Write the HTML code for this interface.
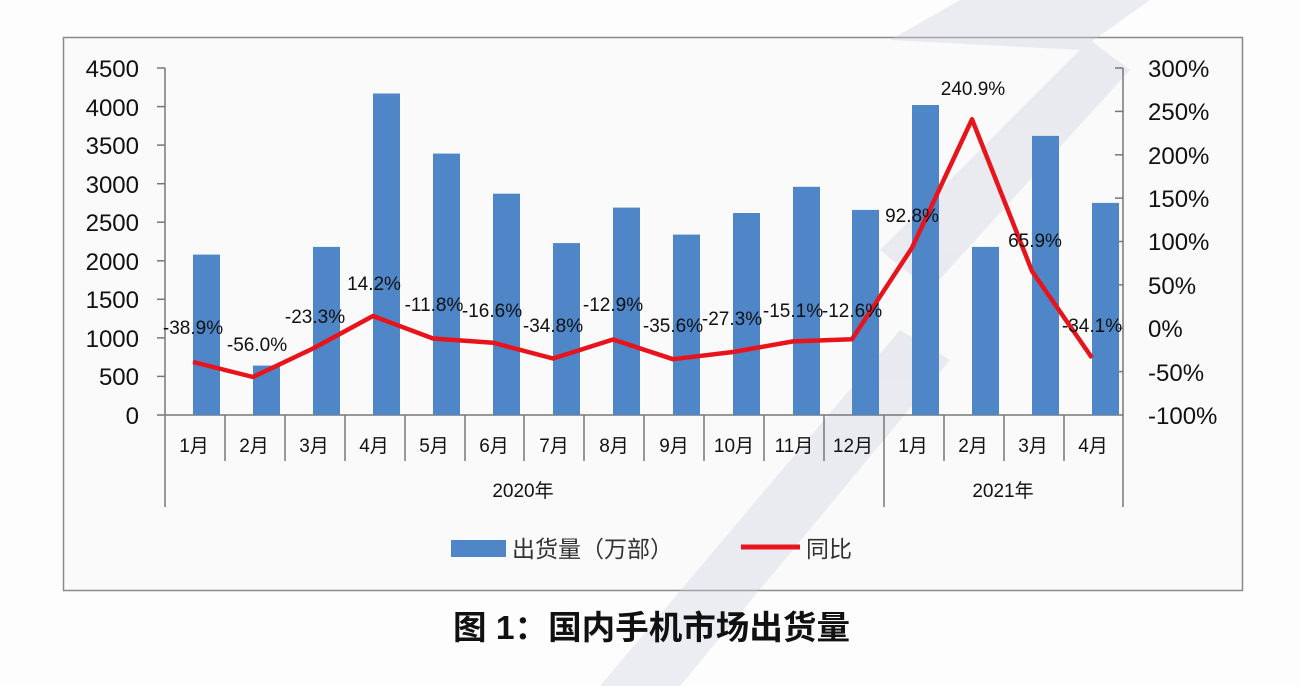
<!DOCTYPE html>
<html><head><meta charset="utf-8"><style>
html,body{margin:0;padding:0;background:#fff;}
svg{display:block;}
text{font-family:"Liberation Sans","Noto Sans CJK SC",sans-serif;}
</style></head><body>
<svg width="1300" height="686" viewBox="0 0 1300 686" xmlns="http://www.w3.org/2000/svg">
<rect x="0" y="0" width="1300" height="686" fill="#fdfdfd"/>
<rect x="63.5" y="37.5" width="1179" height="553" fill="#fafafa" stroke="#8a8a8a" stroke-width="1.5"/>
<!-- watermark -->
<g fill="#c9cfe0" opacity="0.35">
<polygon points="890,40 960,0 1150,0 1080,50"/>
<polygon points="880,250 1090,40 1130,70 930,290"/>
<polygon points="600,686 900,330 950,360 680,686"/>
</g>
<!-- axes -->
<g stroke="#777" stroke-width="1.5" fill="none">
<line x1="165" y1="68" x2="165" y2="507"/>
<line x1="157" y1="415" x2="1123" y2="415"/>
<line x1="1123" y1="68" x2="1123" y2="507"/>
</g>
<g stroke="#777" stroke-width="1.5">
<line x1="157" y1="68" x2="165" y2="68"/><line x1="157" y1="106.6" x2="165" y2="106.6"/>
<line x1="157" y1="145.1" x2="165" y2="145.1"/><line x1="157" y1="183.7" x2="165" y2="183.7"/>
<line x1="157" y1="222.2" x2="165" y2="222.2"/><line x1="157" y1="260.8" x2="165" y2="260.8"/>
<line x1="157" y1="299.3" x2="165" y2="299.3"/><line x1="157" y1="337.9" x2="165" y2="337.9"/>
<line x1="157" y1="376.4" x2="165" y2="376.4"/>
<line x1="1115" y1="68" x2="1123" y2="68"/><line x1="1115" y1="111.4" x2="1123" y2="111.4"/>
<line x1="1115" y1="154.8" x2="1123" y2="154.8"/><line x1="1115" y1="198.1" x2="1123" y2="198.1"/>
<line x1="1115" y1="241.5" x2="1123" y2="241.5"/><line x1="1115" y1="284.9" x2="1123" y2="284.9"/>
<line x1="1115" y1="328.3" x2="1123" y2="328.3"/><line x1="1115" y1="371.6" x2="1123" y2="371.6"/>
<line x1="225" y1="415" x2="225" y2="461"/><line x1="285" y1="415" x2="285" y2="461"/>
<line x1="345" y1="415" x2="345" y2="461"/><line x1="405" y1="415" x2="405" y2="461"/>
<line x1="465" y1="415" x2="465" y2="461"/><line x1="524" y1="415" x2="524" y2="461"/>
<line x1="584" y1="415" x2="584" y2="461"/><line x1="644" y1="415" x2="644" y2="461"/>
<line x1="704" y1="415" x2="704" y2="461"/><line x1="764" y1="415" x2="764" y2="461"/>
<line x1="824" y1="415" x2="824" y2="461"/><line x1="884" y1="415" x2="884" y2="507"/>
<line x1="944" y1="415" x2="944" y2="461"/><line x1="1004" y1="415" x2="1004" y2="461"/>
<line x1="1064" y1="415" x2="1064" y2="461"/>
</g>
<g font-size="24" fill="#111" text-anchor="end">
<text x="139" y="77">4500</text><text x="139" y="116">4000</text><text x="139" y="154">3500</text>
<text x="139" y="193">3000</text><text x="139" y="231">2500</text><text x="139" y="270">2000</text>
<text x="139" y="308">1500</text><text x="139" y="347">1000</text><text x="139" y="385">500</text>
<text x="139" y="424">0</text>
</g>
<g font-size="24" fill="#111" text-anchor="start">
<text x="1148" y="77">300%</text><text x="1148" y="120">250%</text><text x="1148" y="164">200%</text>
<text x="1148" y="207">150%</text><text x="1148" y="250">100%</text><text x="1148" y="294">50%</text>
<text x="1148" y="337">0%</text><text x="1148" y="381">-50%</text><text x="1148" y="424">-100%</text>
</g>
<g fill="#4e86c8">
<rect x="193" y="254.6" width="27" height="160.4"/>
<rect x="253" y="365.6" width="27" height="49.4"/>
<rect x="313" y="246.9" width="27" height="168.1"/>
<rect x="373" y="93.5" width="27" height="321.5"/>
<rect x="433" y="153.6" width="27" height="261.4"/>
<rect x="493" y="193.7" width="27" height="221.3"/>
<rect x="553" y="243.1" width="27" height="171.9"/>
<rect x="613" y="207.6" width="27" height="207.4"/>
<rect x="673" y="234.6" width="27" height="180.4"/>
<rect x="733" y="213" width="27" height="202"/>
<rect x="793" y="186.8" width="27" height="228.2"/>
<rect x="852" y="209.9" width="27" height="205.1"/>
<rect x="912" y="105" width="27" height="310"/>
<rect x="972" y="246.9" width="27" height="168.1"/>
<rect x="1032" y="135.9" width="27" height="279.1"/>
<rect x="1092" y="202.9" width="27" height="212.1"/>
</g>
<polyline fill="none" stroke="#e8141b" stroke-width="4.5" stroke-linejoin="round" points="193,362 253,377 313,348.5 373,316 433,338.5 493,342.7 553,358.5 613,339.5 673,359.2 733,352 793,341.4 852,339.2 912,247.8 972,119.3 1032,271.1 1092,357.9"/>
<g font-size="19" fill="#111" text-anchor="middle">
<text x="193" y="334">-38.9%</text><text x="257" y="351">-56.0%</text><text x="315" y="323">-23.3%</text>
<text x="374" y="290">14.2%</text><text x="434" y="311">-11.8%</text><text x="492" y="317">-16.6%</text>
<text x="553" y="332">-34.8%</text><text x="613" y="311">-12.9%</text><text x="673" y="332">-35.6%</text>
<text x="732" y="325">-27.3%</text><text x="793" y="317">-15.1%</text><text x="852" y="317">-12.6%</text>
<text x="912" y="222">92.8%</text><text x="973" y="95">240.9%</text><text x="1035" y="247">65.9%</text>
<text x="1092" y="332">-34.1%</text>
</g>
<g font-size="19" fill="#111" text-anchor="middle">
<text x="194" y="452">1月</text><text x="254" y="452">2月</text><text x="314" y="452">3月</text>
<text x="374" y="452">4月</text><text x="434" y="452">5月</text><text x="494" y="452">6月</text>
<text x="554" y="452">7月</text><text x="614" y="452">8月</text><text x="674" y="452">9月</text>
<text x="734" y="452">10月</text><text x="794" y="452">11月</text><text x="853" y="452">12月</text>
<text x="913" y="452">1月</text><text x="973" y="452">2月</text><text x="1033" y="452">3月</text>
<text x="1093" y="452">4月</text>
<text x="523" y="497">2020年</text><text x="1003" y="497">2021年</text>
</g>
<rect x="451" y="540" width="55" height="17" fill="#4e86c8"/>
<text x="512" y="557" font-size="23" fill="#333">出货量（万部）</text>
<line x1="741" y1="547" x2="800" y2="547" stroke="#e8141b" stroke-width="5"/>
<text x="806" y="557" font-size="23" fill="#333">同比</text>
<text x="453" y="639" font-size="33" font-weight="bold" fill="#111" textLength="397" lengthAdjust="spacingAndGlyphs">图 1：国内手机市场出货量</text>
</svg>
</body></html>
